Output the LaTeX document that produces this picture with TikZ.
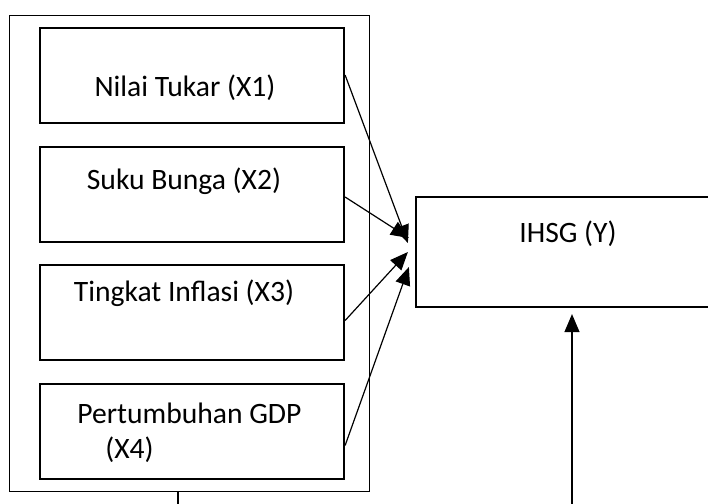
\documentclass[tikz,border=0pt]{standalone}
\usepackage{fontspec}
\setmainfont{Carlito}
\usepackage{tikz}
\usetikzlibrary{arrows.meta, positioning, calc}
\tikzset{
    varbox/.style={rectangle, draw=black, line width=1.1pt, minimum width=152pt, minimum height=47.5pt, inner sep=0pt},
    vartext/.style={font=\fontsize{14.8}{17}\selectfont, inner sep=0pt, align=left},
    resultbox/.style={rectangle, draw=black, line width=1.1pt, minimum width=156pt, minimum height=55pt, inner sep=0pt},
    container/.style={rectangle, draw=black, line width=0.5pt, minimum width=180pt, minimum height=238pt, inner sep=0pt},
    arrow/.style={line width=0.6pt, -{Triangle[length=9pt, width=7.5pt]}},
    plainline/.style={line width=0.6pt}
}

\begin{document}
\begin{tikzpicture}[x=0.5pt, y=-0.5pt]
        \useasboundingbox (0,0) rectangle (708,504);
        \clip (0,0) rectangle (708,504);

        % Outer container
        \node[container] (grp) at (189,253) {};

        % Independent variables
        \node[varbox] (b1) at (192,75.5) {};
        \node[varbox] (b2) at (192,194.5) {};
        \node[varbox] (b3) at (192,312.5) {};
        \node[varbox] (b4) at (192,431.5) {};

        \node[vartext] (t1) at (185,88) {Nilai Tukar (X1)};
        \node[vartext] (t2) at (184,181) {Suku Bunga (X2)};
        \node[vartext] (t3) at (184,293) {Tingkat Inflasi (X3)};
        \node[vartext, anchor=west] (t4a) at (77,413) {Pertumbuhan GDP};
        \node[vartext, anchor=west] (t4b) at (105,450) {(X4)};

        % Dependent variable
        \node[resultbox] (ihsg) at (572,252) {};
        \node[vartext] (ty) at (568,234) {IHSG (Y)};

        % Free ends below
        \coordinate (xout) at (178,510);
        \coordinate (yin) at (572,510);

        % Arrows
        \draw[arrow] ([yshift=0.25pt]b1.east) -- ($(ihsg.west)+(-7,-9)$);
        \draw[arrow] ([yshift=-1.25pt]b2.east) -- ($(ihsg.west)+(-6,-14)$);
        \draw[arrow] ([yshift=-4pt]b3.east) -- ($(ihsg.west)+(-7,0)$);
        \draw[arrow] ([yshift=-7pt]b4.east) -- ($(ihsg.west)+(-6,15)$);
        \draw[plainline] (grp.south -| xout) -- (xout);
        \draw[arrow] (yin) -- ($(ihsg.south)+(0,6)$);
    \end{tikzpicture}
\end{document}
